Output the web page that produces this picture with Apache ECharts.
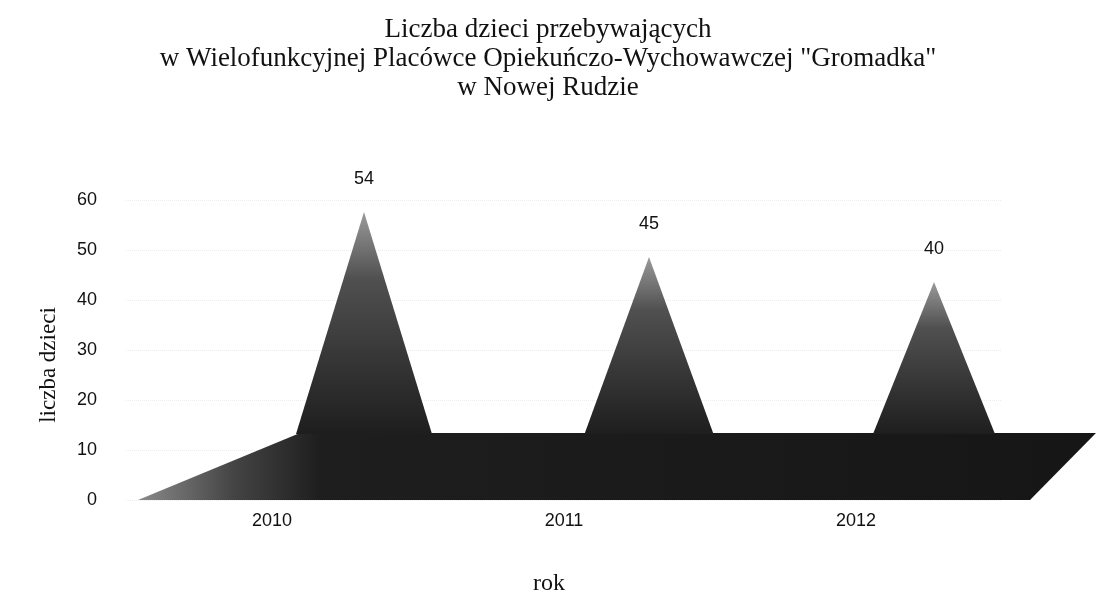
<!DOCTYPE html>
<html>
<head>
<meta charset="utf-8">
<script src="https://cdn.jsdelivr.net/npm/echarts@6/dist/echarts.min.js"></script>
<style>
  html, body { margin: 0; padding: 0; background: #fff; }
  #chart { width: 1096px; height: 610px; }
</style>
</head>
<body>
<div id="chart"></div>
<script>
// liczba dzieci w placówce "Gromadka", wykres piramidowy 3D
const years = ['2010', '2011', '2012']
const children = [54, 45, 40]
const yTicks = { min: 0, max: 60, interval: 10 }

const SERIF = '"Liberation Serif", "DejaVu Serif", serif'
const SANS = '"Liberation Sans", Arial, sans-serif'
const DEPTH = 67 // przesunięcie tylnej krawędzi podłogi (px)

const chart = echarts.init(document.getElementById('chart'))

function floorItem(params, api) {
  const cs = params.coordSys
  const y0 = api.coord([0, 0])[1]
  const x0 = cs.x
  const x1 = cs.x + cs.width
  return {
    type: 'polygon',
    shape: {
      points: [
        [x0 + 12, y0],
        [x0 + 174, y0 - DEPTH],
        [x1 + 94, y0 - DEPTH],
        [x1 + 28, y0],
      ],
    },
    style: {
      fill: new echarts.graphic.LinearGradient(0, 0, 1, 0, [
        { offset: 0, color: '#8a8a8a' },
        { offset: 0.1, color: '#444' },
        { offset: 0.19, color: '#1e1e1e' },
        { offset: 1, color: '#161616' },
      ]),
    },
    z2: 1,
  }
}

function pyramidItem(params, api) {
  const idx = api.value(0)
  const base = api.coord([idx, 0])
  const top = api.coord([idx, api.value(1)])
  const dx = 92 - 7 * idx
  const half = 68 - 3.5 * idx
  const cx = base[0] + dx
  const by = base[1] - DEPTH
  const ty = top[1] - 18
  return {
    type: 'group',
    children: [
      {
        type: 'polygon',
        shape: { points: [[cx - half, by + 1], [cx, ty], [cx + half, by + 1]] },
        style: {
          fill: new echarts.graphic.LinearGradient(0, 0, 0, 1, [
            { offset: 0, color: '#9a9a9a' },
            { offset: 0.3, color: '#505050' },
            { offset: 1, color: '#1e1e1e' },
          ]),
        },
      },
      {
        type: 'text',
        style: {
          text: String(api.value(1)),
          x: cx,
          y: ty - 33,
          align: 'center',
          verticalAlign: 'middle',
          font: '18px ' + SANS,
          fill: '#111',
        },
      },
    ],
  }
}

chart.setOption({
  animation: false,
  title: {
    text: 'Liczba dzieci przebywających\nw Wielofunkcyjnej Placówce Opiekuńczo-Wychowawczej "Gromadka"\nw Nowej Rudzie',
    left: 'center',
    top: 10,
    textStyle: { fontFamily: SERIF, fontSize: 27, fontWeight: 'normal', color: '#111', lineHeight: 29 },
  },
  grid: { left: 126, right: 94, top: 200, bottom: 110 },
  xAxis: {
    type: 'category',
    data: years,
    name: 'rok',
    nameLocation: 'middle',
    nameGap: 72,
    nameTextStyle: { fontFamily: SERIF, fontSize: 24, color: '#111', padding: [0, 30, 0, 0] },
    axisLine: { show: false },
    axisTick: { show: false },
    axisLabel: { fontFamily: SANS, fontSize: 18, color: '#111', margin: 12 },
  },
  yAxis: {
    type: 'value',
    min: yTicks.min,
    max: yTicks.max,
    interval: yTicks.interval,
    name: 'liczba dzieci',
    nameLocation: 'middle',
    nameGap: 66,
    nameTextStyle: { fontFamily: SERIF, fontSize: 23, color: '#111', padding: [0, 30, 0, 0] },
    axisLine: { show: false },
    axisTick: { show: false },
    axisLabel: { fontFamily: SANS, fontSize: 18, color: '#111', margin: 29 },
    splitLine: { lineStyle: { color: '#ececec', type: 'dotted' } },
  },
  series: [
    {
      type: 'custom',
      renderItem: floorItem,
      data: [[0, 0]],
      z: 1,
      silent: true,
    },
    {
      type: 'custom',
      renderItem: pyramidItem,
      data: children.map((v, i) => [i, v]),
      z: 2,
    },
  ],
})
</script>
</body>
</html>
